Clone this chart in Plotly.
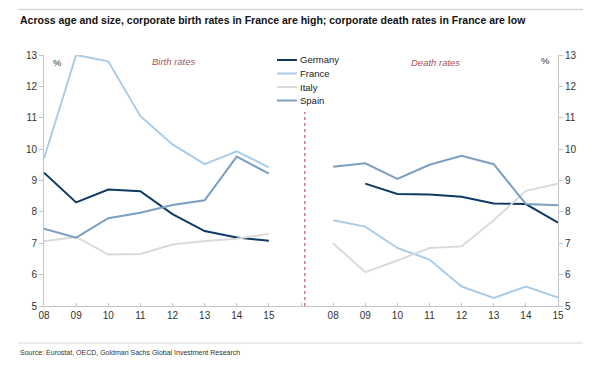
import plotly.graph_objects as go

years = ["08", "09", "10", "11", "12", "13", "14", "15"]
countries = ["Germany", "France", "Italy", "Spain"]
colors = {"Germany": "#0c3a63", "France": "#a9cde8", "Italy": "#dadada", "Spain": "#7b9fc3"}

birth_germany = [9.25, 8.30, 8.71, 8.66, 7.93, 7.39, 7.18, 7.08]
birth_france = [9.70, 13.00, 12.80, 11.05, 10.15, 9.52, 9.93, 9.42]
birth_italy = [7.06, 7.20, 6.64, 6.66, 6.96, 7.07, 7.14, 7.30]
birth_spain = [7.46, 7.18, 7.80, 7.97, 8.22, 8.37, 9.76, 9.22]

death_germany = [None, 8.90, 8.57, 8.55, 8.48, 8.27, 8.25, 7.66]
death_france = [7.73, 7.53, 6.85, 6.48, 5.62, 5.26, 5.62, 5.27]
death_italy = [7.00, 6.08, 6.45, 6.85, 6.90, 7.73, 8.67, 8.90]
death_spain = [9.44, 9.55, 9.05, 9.50, 9.79, 9.52, 8.25, 8.21]

birth = {"Germany": birth_germany, "France": birth_france, "Italy": birth_italy, "Spain": birth_spain}
death = {"Germany": death_germany, "France": death_france, "Italy": death_italy, "Spain": death_spain}

# page body has an 8px margin, so the figure is drawn 8px in from the window corner
OFF = 8
W, H = 608 - OFF, 373 - OFF
ML, MR, MT, MB = 44 - OFF, 50, 55 - OFF, 67
PW, PH = W - ML - MR, H - MT - MB


def px(x):
    """window pixel x -> paper coordinate"""
    return (x - OFF - ML) / PW


def py(y):
    """window pixel y -> paper coordinate"""
    return 1 - (y - OFF - MT) / PH


left_pos = list(range(0, 8))
right_pos = list(range(9, 17))
tick_vals = list(range(0, 17))
tick_text = years + [""] + years

fig = go.Figure()
for c in countries:
    fig.add_trace(go.Scatter(x=left_pos, y=birth[c], mode="lines", name=c, showlegend=False,
                             line=dict(color=colors[c], width=2), yaxis="y"))
for c in countries:
    fig.add_trace(go.Scatter(x=right_pos, y=death[c], mode="lines", name=c, showlegend=False,
                             line=dict(color=colors[c], width=2), yaxis="y2"))

axis_col = "#c4c4c4"
tick_font = dict(family="Liberation Sans, Arial, sans-serif", size=10, color="#333333")

fig.update_layout(
    width=W, height=H,
    margin=dict(l=ML, r=MR, t=MT, b=MB, autoexpand=False),
    paper_bgcolor="white", plot_bgcolor="white",
    showlegend=False,
    xaxis=dict(range=[0, 16], tickvals=tick_vals, ticktext=tick_text, showgrid=False,
               zeroline=False, showline=True, linecolor=axis_col, linewidth=1,
               ticks="inside", ticklen=3, tickcolor=axis_col, tickfont=tick_font),
    yaxis=dict(range=[5, 13], dtick=1, showgrid=False, zeroline=False, showline=True,
               linecolor=axis_col, ticks="outside", ticklen=4, tickcolor=axis_col,
               tickfont=tick_font),
    yaxis2=dict(range=[5, 13], dtick=1, overlaying="y", side="right", showgrid=False,
                zeroline=False, showline=True, linecolor=axis_col, ticks="outside",
                ticklen=4, tickcolor=axis_col, tickfont=tick_font),
    font=dict(family="Liberation Sans, Arial, sans-serif"),
)

# divider between panels
fig.add_shape(type="line", xref="x", yref="paper", x0=8.12, x1=8.12, y0=0, y1=py(112),
              line=dict(color="#a23f46", width=1, dash="3px,3px"))

# top and bottom rules
fig.add_shape(type="line", xref="paper", yref="paper", x0=px(18), x1=px(583), y0=py(9.5), y1=py(9.5),
              line=dict(color="#d6d6d6", width=1.5))
fig.add_shape(type="line", xref="paper", yref="paper", x0=px(18), x1=px(583), y0=py(343), y1=py(343),
              line=dict(color="#d6d6d6", width=1))

# legend (drawn to match the compact original)
leg_y = [60, 73.5, 87, 100.5]
for c, yy in zip(countries, leg_y):
    fig.add_shape(type="line", xref="paper", yref="paper", x0=px(277), x1=px(297),
                  y0=py(yy), y1=py(yy), line=dict(color=colors[c], width=2))
    fig.add_annotation(xref="paper", yref="paper", showarrow=False, text=c,
                       x=px(298), y=py(yy), xanchor="left", yanchor="middle",
                       font=dict(size=9.5, color="#222222"))

annos = [
    dict(text="<b>Across age and size, corporate birth rates in France are high; corporate death rates in France are low</b>",
         x=px(18), y=py(20), xanchor="left", yanchor="middle",
         font=dict(family="Liberation Sans Narrow, Liberation Sans, Arial", size=10.5, color="#111111")),
    dict(text="Source: Eurostat, OECD, Goldman Sachs Global Investment Research",
         x=px(18), y=py(352), xanchor="left", yanchor="middle",
         font=dict(family="Liberation Sans Narrow, Liberation Sans, Arial", size=7, color="#333333")),
    dict(text="%", x=px(57), y=py(63), xanchor="center", yanchor="middle",
         font=dict(size=9.5, color="#333333")),
    dict(text="%", x=px(545), y=py(61), xanchor="center", yanchor="middle",
         font=dict(size=9.5, color="#333333")),
    dict(text="<i>Birth rates</i>", x=px(174), y=py(62), xanchor="center", yanchor="middle",
         font=dict(size=9.5, color="#a5545a")),
    dict(text="<i>Death rates</i>", x=px(435), y=py(63), xanchor="center", yanchor="middle",
         font=dict(size=9.5, color="#a5545a")),
]
for a in annos:
    fig.add_annotation(xref="paper", yref="paper", showarrow=False, **a)

fig.write_html("out.html")
